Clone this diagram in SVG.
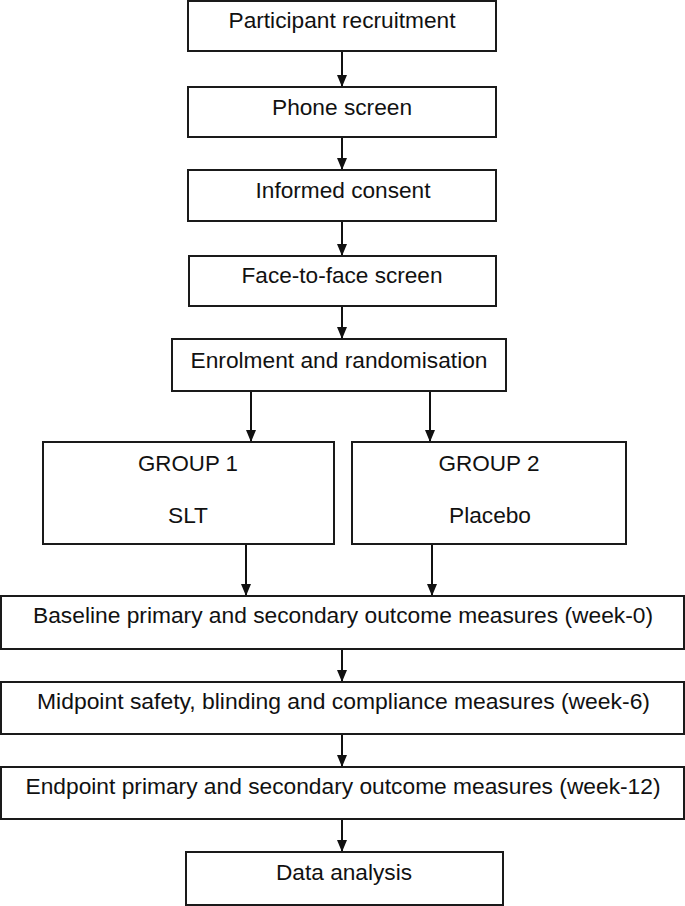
<svg xmlns="http://www.w3.org/2000/svg" width="685" height="906" viewBox="0 0 685 906">
<style>
.box{fill:#fff;stroke:#1a1a1a;stroke-width:2}
.t{font-family:"Liberation Sans",Arial,sans-serif;font-size:22px;fill:#111;text-anchor:middle}
.c{stroke:#111;stroke-width:2;fill:none;marker-end:url(#ah)}
</style>
<defs>
<marker id="ah" markerUnits="userSpaceOnUse" markerWidth="12" markerHeight="10" viewBox="0 0 12 10" refX="12" refY="5" orient="auto">
<path d="M0,0 L12,5 L0,10 Z" fill="#111"/>
</marker>
</defs>
<rect width="685" height="906" fill="#fff"/>
<g id="connectors">
<line class="c" x1="342" y1="51" x2="342" y2="87"/>
<line class="c" x1="342" y1="137" x2="342" y2="170"/>
<line class="c" x1="342" y1="221" x2="342" y2="256"/>
<line class="c" x1="342" y1="306" x2="342" y2="339"/>
<line class="c" x1="251" y1="391" x2="251" y2="442"/>
<line class="c" x1="430" y1="391" x2="430" y2="442"/>
<line class="c" x1="246" y1="544" x2="246" y2="596"/>
<line class="c" x1="432" y1="544" x2="432" y2="596"/>
<line class="c" x1="342" y1="649" x2="342" y2="682"/>
<line class="c" x1="342" y1="734" x2="342" y2="767"/>
<line class="c" x1="342" y1="819" x2="342" y2="852"/>
</g>
<g id="recruitment"><rect class="box" x="188" y="1" width="308" height="50"/><text class="t" x="342" y="28" textLength="227" lengthAdjust="spacingAndGlyphs">Participant recruitment</text></g>
<g id="phone"><rect class="box" x="188" y="87" width="308" height="50"/><text class="t" x="342" y="115" textLength="140" lengthAdjust="spacingAndGlyphs">Phone screen</text></g>
<g id="consent"><rect class="box" x="188" y="170" width="308" height="51"/><text class="t" x="343" y="198" textLength="175" lengthAdjust="spacingAndGlyphs">Informed consent</text></g>
<g id="face"><rect class="box" x="189" y="256" width="307" height="50"/><text class="t" x="342" y="283" textLength="201" lengthAdjust="spacingAndGlyphs">Face-to-face screen</text></g>
<g id="enrolment"><rect class="box" x="172" y="339" width="334" height="52"/><text class="t" x="339" y="368" textLength="297" lengthAdjust="spacingAndGlyphs">Enrolment and randomisation</text></g>
<g id="group1"><rect class="box" x="43" y="442" width="291" height="102"/><text class="t" x="188" y="471" textLength="100" lengthAdjust="spacingAndGlyphs">GROUP 1</text><text class="t" x="188" y="523" textLength="40" lengthAdjust="spacingAndGlyphs">SLT</text></g>
<g id="group2"><rect class="box" x="352" y="442" width="274" height="102"/><text class="t" x="489" y="471" textLength="101" lengthAdjust="spacingAndGlyphs">GROUP 2</text><text class="t" x="490" y="523" textLength="82" lengthAdjust="spacingAndGlyphs">Placebo</text></g>
<g id="baseline"><rect class="box" x="1" y="596" width="683" height="53"/><text class="t" x="343" y="623" textLength="620" lengthAdjust="spacingAndGlyphs">Baseline primary and secondary outcome measures (week-0)</text></g>
<g id="midpoint"><rect class="box" x="1" y="682" width="683" height="52"/><text class="t" x="343.5" y="709" textLength="613" lengthAdjust="spacingAndGlyphs">Midpoint safety, blinding and compliance measures (week-6)</text></g>
<g id="endpoint"><rect class="box" x="1" y="767" width="683" height="52"/><text class="t" x="343" y="794" textLength="635" lengthAdjust="spacingAndGlyphs">Endpoint primary and secondary outcome measures (week-12)</text></g>
<g id="analysis"><rect class="box" x="186" y="852" width="317" height="53"/><text class="t" x="344" y="880" textLength="136" lengthAdjust="spacingAndGlyphs">Data analysis</text></g>
</svg>
